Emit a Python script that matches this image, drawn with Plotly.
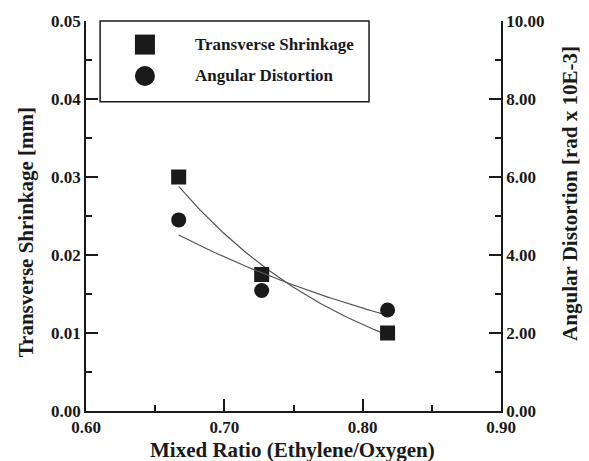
import numpy as np
import plotly.graph_objects as go

# Data
mixed_ratio = [0.667, 0.727, 0.818]
transverse_shrinkage = [0.030, 0.0175, 0.010]      # mm (left axis)
angular_distortion = [4.90, 3.09, 2.59]            # rad x 10E-3 (right axis)

x_ticks = [0.60, 0.70, 0.80, 0.90]
y_left_ticks = [0.00, 0.01, 0.02, 0.03, 0.04, 0.05]
y_right_ticks = [0.00, 2.00, 4.00, 6.00, 8.00, 10.00]

FONT = "Liberation Serif"
INK = "#1a1a1a"

xs = np.linspace(min(mixed_ratio), max(mixed_ratio), 100)
# exponential trend lines
ps = np.polyfit(mixed_ratio, np.log(transverse_shrinkage), 1)
ys_fit = np.exp(np.polyval(ps, xs))
pe = np.polyfit(mixed_ratio, np.log(angular_distortion), 1)
ya_fit = np.exp(np.polyval(pe, xs))

fig = go.Figure()
fig.add_trace(go.Scatter(x=xs, y=ys_fit, mode="lines", line=dict(color="#555", width=1.2),
                         showlegend=False, hoverinfo="skip"))
fig.add_trace(go.Scatter(x=xs, y=ya_fit, mode="lines", line=dict(color="#555", width=1.2),
                         showlegend=False, hoverinfo="skip", yaxis="y2"))
fig.add_trace(go.Scatter(x=mixed_ratio, y=transverse_shrinkage, mode="markers",
                         marker=dict(symbol="square", size=15, color=INK),
                         name="Transverse Shrinkage", showlegend=False))
fig.add_trace(go.Scatter(x=mixed_ratio, y=angular_distortion, mode="markers",
                         marker=dict(symbol="circle", size=15, color=INK),
                         name="Angular Distortion", showlegend=False, yaxis="y2"))

tickfont = dict(family=FONT, size=17, color=INK, weight="bold")
titlefont = dict(family=FONT, size=21, color=INK, weight="bold")

axis_common = dict(showgrid=False, zeroline=False, showline=True, linecolor=INK, linewidth=1.5,
                   ticks="inside", ticklen=12, tickwidth=1.5, tickcolor=INK, tickfont=tickfont)

fig.update_layout(
    width=589, height=461,
    margin=dict(l=86, r=88, t=14, b=50),
    paper_bgcolor="white", plot_bgcolor="white",
    xaxis=dict(range=[0.6, 0.9], tickvals=x_ticks, ticktext=[f"{v:.2f}" for v in x_ticks],
               minor=dict(dtick=0.05, ticks="inside", ticklen=6, tickwidth=1.5, tickcolor=INK),
               ticklabelstandoff=0, **axis_common),
    yaxis=dict(range=[0, 0.05], tickvals=y_left_ticks, ticktext=[f"{v:.2f}" for v in y_left_ticks],
               minor=dict(dtick=0.005, ticks="inside", ticklen=6, tickwidth=1.5, tickcolor=INK),
               **axis_common),
    yaxis2=dict(range=[0, 10], overlaying="y", side="right",
                tickvals=y_right_ticks, ticktext=[f"{v:.2f}" for v in y_right_ticks],
                minor=dict(dtick=1, ticks="inside", ticklen=6, tickwidth=1.5, tickcolor=INK),
                **axis_common),
)

# Axis titles
fig.add_annotation(xref="paper", yref="paper", x=0.4976, y=-0.099, text="Mixed Ratio (Ethylene/Oxygen)",
                   showarrow=False, xanchor="center", yanchor="middle", font=titlefont)
fig.add_annotation(xref="paper", yref="paper", x=-0.1446, y=0.458, text="Transverse Shrinkage [mm]",
                   showarrow=False, xanchor="center", yanchor="middle", textangle=-90, font=titlefont)
fig.add_annotation(xref="paper", yref="paper", x=1.166, y=0.559, text="Angular Distortion [rad x 10E-3]",
                   showarrow=False, xanchor="center", yanchor="middle", textangle=-90, font=titlefont)

# Legend box drawn manually
fig.add_shape(type="rect", xref="paper", yref="paper", x0=0.034, x1=0.682, y0=0.793, y1=1.0,
              line=dict(color=INK, width=1.5), fillcolor="white", layer="below")
fig.add_shape(type="rect", xref="paper", yref="paper", xsizemode="pixel", ysizemode="pixel",
              xanchor=0.142, yanchor=0.9395, x0=-10, x1=10, y0=-10, y1=10,
              fillcolor=INK, line=dict(width=0))
fig.add_shape(type="circle", xref="paper", yref="paper", xsizemode="pixel", ysizemode="pixel",
              xanchor=0.142, yanchor=0.859, x0=-10, x1=10, y0=-10, y1=10,
              fillcolor=INK, line=dict(width=0))
legfont = dict(family=FONT, size=17, color=INK, weight="bold")
fig.add_annotation(xref="paper", yref="paper", x=0.258, y=0.9395, text="Transverse Shrinkage",
                   showarrow=False, xanchor="left", yanchor="middle", font=legfont)
fig.add_annotation(xref="paper", yref="paper", x=0.258, y=0.859, text="Angular Distortion",
                   showarrow=False, xanchor="left", yanchor="middle", font=legfont)

fig.write_html("out.html")
